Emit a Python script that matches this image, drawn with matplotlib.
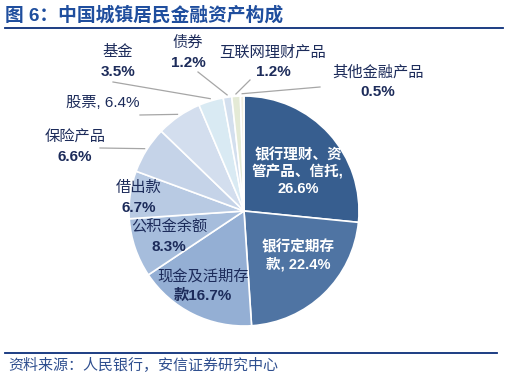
import numpy as np
import matplotlib.pyplot as plt

plt.rcParams['font.family'] = ['Liberation Sans', 'Noto Sans CJK SC']

# data
names = ['银行理财、资管产品、信托', '银行定期存款', '现金及活期存款', '公积金余额',
         '借出款', '保险产品', '股票', '基金', '债券', '互联网理财产品', '其他金融产品']
shares = [26.6, 22.4, 16.7, 8.3, 6.7, 6.6, 6.4, 3.5, 1.2, 1.2, 0.5]
labels = ['银行理财、资\n管产品、信托,\n26.6%', '银行定期存\n款, 22.4%', '现金及活期存\n款16.7%',
          '公积金余额\n8.3%', '借出款\n6.7%', '保险产品\n6.6%', '股票, 6.4%',
          '基金\n3.5%', '债券\n1.2%', '互联网理财产品\n1.2%', '其他金融产品\n0.5%']
colors = ['#375E8F', '#4F74A3', '#94AFD4', '#A6BDDC', '#B8CAE3', '#C5D3E8',
          '#D3DEEE', '#D9EAF3', '#D3DFEE', '#E4EAD6', '#F2EFE0']

W, H = 508, 381
fig = plt.figure(figsize=(W / 100, H / 100), dpi=100)

# pie placement in pixels
cx, cy, R = 244, 211, 115
ax = fig.add_axes([(cx - R) / W, (H - cy - R) / H, 2 * R / W, 2 * R / H])
wedges, _ = ax.pie(shares, colors=colors, startangle=90, counterclock=False,
                   radius=1, wedgeprops=dict(edgecolor='white', linewidth=1.2))
ax.set_xlim(-1, 1)
ax.set_ylim(-1, 1)
ax.set_aspect('equal')
ax.axis('off')


def px(x, y):
    return (x - cx) / R, (cy - y) / R


navy = '#1C2B5A'
fs = 11
# label positions (pixel), inside flag, leader start (pixel)
layout = [
    ((298, 172), 'in', None),
    ((298, 256), 'in', None),
    ((203, 286), 'dark', None),
    ((169, 237), 'dark', None),
    ((139, 198), 'dark', None),
    ((75, 147), 'out', (100, 148)),
    ((103, 103), 'out', (140, 115)),
    ((118, 62), 'out', (113, 82)),
    ((188, 53), 'out', (198, 72)),
    ((273, 62), 'out', (250, 80)),
    ((378, 82), 'out', (320, 87)),
]

for w, lab, (pos, kind, lead) in zip(wedges, labels, layout):
    tx, ty = px(*pos)
    color = 'white' if kind == 'in' else navy
    if '\n' in lab and kind != 'in':
        head, pct = lab.rsplit('\n', 1)
        ax.text(tx, ty + 0.085, head, ha='center', va='center', color=color,
                fontsize=fs, clip_on=False)
        ax.text(tx, ty - 0.085, pct, ha='center', va='center', color=color,
                fontsize=fs, fontweight='bold', clip_on=False)
    elif kind == 'in':
        ax.text(tx, ty, lab, ha='center', va='center', color=color,
                fontsize=10.5, fontweight='bold', linespacing=1.2, clip_on=False)
    else:
        ax.text(tx, ty, lab, ha='center', va='center', color=color,
                fontsize=fs, clip_on=False)
    if lead is not None:
        ang = np.deg2rad((w.theta1 + w.theta2) / 2)
        ex, ey = 1.02 * np.cos(ang), 1.02 * np.sin(ang)
        sx, sy = px(*lead)
        ax.plot([sx, ex], [sy, ey], color='#A6A6A6', lw=0.9, clip_on=False)

# title and rules
fig.text(5 / W, 1 - 15 / H, '图 6：中国城镇居民金融资产构成', fontsize=13.5,
         fontweight='bold', color='#1F4E9E', va='center', ha='left')
fig.add_artist(plt.Line2D([5 / W, 503 / W], [1 - 28 / H, 1 - 28 / H],
                          color='#0B2E7A', lw=1.3))
fig.add_artist(plt.Line2D([5 / W, 497 / W], [1 - 353 / H, 1 - 353 / H],
                          color='#0B2E7A', lw=1.3))
fig.text(8 / W, 1 - 366 / H, '资料来源：人民银行，安信证券研究中心', fontsize=10.8,
         color='#2F4F8F', va='center', ha='left')

fig.savefig('out.png', dpi=100, facecolor='white')
